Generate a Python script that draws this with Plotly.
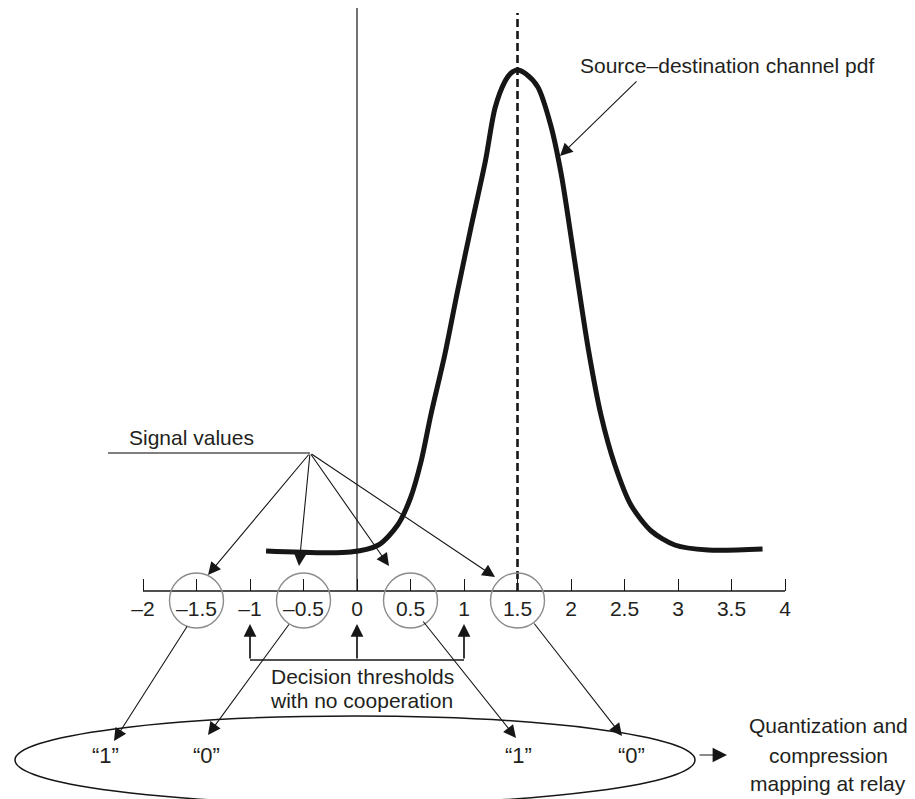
import plotly.graph_objects as go

# ---------------- data ----------------
tick_vals = [-2, -1.5, -1, -0.5, 0, 0.5, 1, 1.5, 2, 2.5, 3, 3.5, 4]
tick_text = ["–2", "–1.5", "–1", "–0.5", "0", "0.5", "1", "1.5", "2", "2.5", "3", "3.5", "4"]
signal_values = [-1.5, -0.5, 0.5, 1.5]
thresholds = [-1, 0, 1]
pdf_mean = 1.5
pdf_x = [-0.85, -0.06, 0.20, 0.38, 0.50, 0.60, 0.69, 0.82, 0.94, 1.07, 1.20, 1.29, 1.38, 1.44, 1.50,
         1.58, 1.69, 1.81, 1.91, 2.04, 2.16, 2.28, 2.41, 2.56, 2.75, 2.97, 3.28, 3.79]
pdf_y = [0.40, 0.39, 0.46, 0.66, 0.93, 1.30, 1.76, 2.36, 3.00, 3.66, 4.30, 4.83, 5.09, 5.18, 5.21,
         5.17, 5.04, 4.66, 4.16, 3.26, 2.43, 1.76, 1.26, 0.86, 0.60, 0.46, 0.41, 0.42]
relay_labels = ["“1”", "“0”", "“1”", "“0”"]
relay_label_x = [-2.355, -1.41, 1.505, 2.57]

# ---------------- geometry helpers (screen px -> axis units) ----------------
W, H = 915, 799
X0PX, UX = 349.0, 107.0   # px of x=0, px per unit
Y0PX, UY = 583.0, 100.0   # px of y=0, px per unit


def X(px):
    return (px - X0PX) / UX


def Y(py):
    return (Y0PX - py) / UY


FONT = "Liberation Sans, Arial, Helvetica, sans-serif"
TXT = "#231f20"
INK = "#161616"

fig = go.Figure()

# axis base line from -2 to 4
fig.add_trace(go.Scatter(x=[tick_vals[0], tick_vals[-1]], y=[0, 0], mode="lines",
                         line=dict(color=INK, width=1.3), hoverinfo="skip"))
# vertical solid line at 0
fig.add_trace(go.Scatter(x=[0, 0], y=[0, Y(0)], mode="lines",
                         line=dict(color=INK, width=1.2), hoverinfo="skip"))
# dashed line at mean
fig.add_trace(go.Scatter(x=[pdf_mean, pdf_mean], y=[0, Y(5)], mode="lines",
                         line=dict(color=INK, width=2.6, dash="8px,4px"), hoverinfo="skip"))
# pdf curve
fig.add_trace(go.Scatter(x=pdf_x, y=pdf_y, mode="lines",
                         line=dict(color=INK, width=5, shape="spline", smoothing=0.8),
                         hoverinfo="skip"))

shapes = []
# circles around signal values
for v in signal_values:
    shapes.append(dict(type="circle", xref="x", yref="y",
                       x0=v - 27 / UX, x1=v + 27 / UX, y0=Y(620), y1=Y(565),
                       line=dict(color="#8c8c8c", width=1.4)))
# relay ellipse
shapes.append(dict(type="circle", xref="x", yref="y",
                   x0=X(7), x1=X(687), y0=Y(796), y1=Y(708),
                   line=dict(color=INK, width=1.5)))
# Signal values underline
shapes.append(dict(type="line", xref="x", yref="y", x0=X(100), x1=X(302), y0=Y(445), y1=Y(445),
                   line=dict(color="#555555", width=1.5)))
# threshold bracket horizontal
shapes.append(dict(type="line", xref="x", yref="y", x0=thresholds[0], x1=thresholds[-1],
                   y0=Y(652), y1=Y(652), line=dict(color=INK, width=1.7)))

ann = []


def arrow(tail, tip, width=1.1, size=2.3, head=2):
    ann.append(dict(x=X(tip[0]), y=Y(tip[1]), ax=X(tail[0]), ay=Y(tail[1]),
                    xref="x", yref="y", axref="x", ayref="y", text="", showarrow=True,
                    arrowhead=head, arrowsize=size, arrowwidth=width, arrowcolor=INK,
                    standoff=0, startstandoff=0))


def text(s, px, py, size=21, anchor="center"):
    ann.append(dict(x=X(px), y=Y(py), xref="x", yref="y", text=s, showarrow=False,
                    xanchor=anchor, yanchor="middle", font=dict(family=FONT, size=size, color=TXT)))


# signal-value arrows from hub
hub = (302, 445)
for tip in [(200, 567), (291, 558), (381, 558), (487, 569)]:
    arrow(hub, tip)

# threshold arrows (upwards)
for t in thresholds:
    ann.append(dict(x=t, y=Y(616), ax=t, ay=Y(652), xref="x", yref="y", axref="x", ayref="y",
                    text="", showarrow=True, arrowhead=2, arrowsize=1.5, arrowwidth=1.7,
                    arrowcolor=INK, standoff=0))

# mapping arrows to relay labels
for tail, tip in [((180, 617), (106, 733)), ((282, 615), (200, 727)),
                  ((414, 612), (508, 730)), ((525, 614), (614, 728))]:
    arrow(tail, tip)

# pdf label arrow
arrow((630, 72), (552, 148))
# right arrow
arrow((690, 747), (719, 747), width=1.2, size=2.4)

# texts
text("Source–destination channel pdf", 570, 57, anchor="left")
text("Signal values", 183, 429)
text("Decision thresholds", 354, 668)
text("with no cooperation", 353, 692)
for s, xv in zip(relay_labels, relay_label_x):
    ann.append(dict(x=xv, y=Y(747), xref="x", yref="y", text=s, showarrow=False,
                    font=dict(family=FONT, size=22, color=TXT)))
text("Quantization and", 820, 717)
text("compression", 820, 747)
text("mapping at relay", 820, 775)

fig.update_layout(
    width=W, height=H, margin=dict(l=0, r=0, t=0, b=0),
    paper_bgcolor="white", plot_bgcolor="white", showlegend=False,
    shapes=shapes, annotations=ann,
    xaxis=dict(range=[X(0), X(W)], anchor="free", position=(H - Y0PX) / H,
               tickvals=tick_vals, ticktext=tick_text, ticks="inside", ticklen=12,
               tickwidth=1, tickcolor=INK, showline=False, showgrid=False, zeroline=False,
               tickfont=dict(family=FONT, size=21, color=TXT), ticklabelstandoff=3,
               fixedrange=True),
    yaxis=dict(range=[Y(H), Y(0)], visible=False, showgrid=False, zeroline=False,
               fixedrange=True),
)

fig.write_html("out.html")
